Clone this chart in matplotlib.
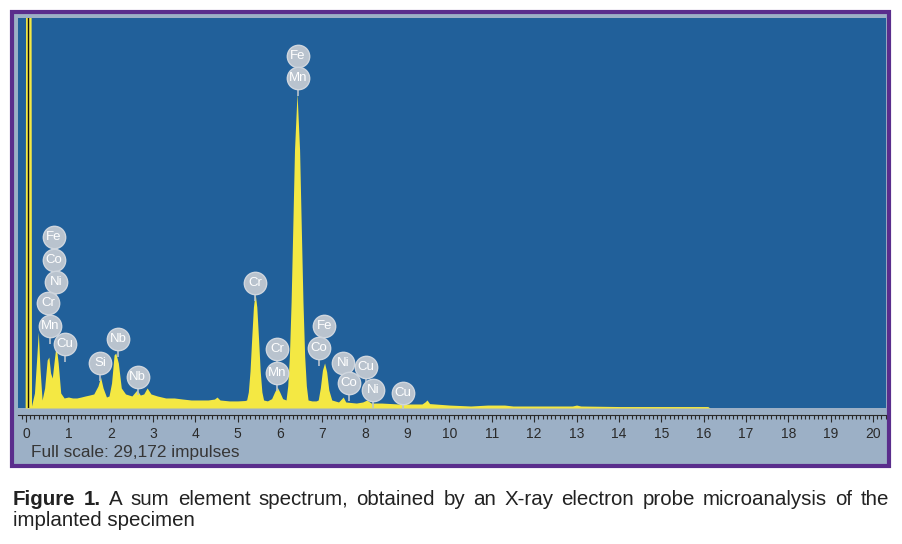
import numpy as np
import matplotlib.pyplot as plt
from matplotlib.patches import Rectangle
from matplotlib.ticker import MultipleLocator
from matplotlib import transforms

W, H = 902, 544
full_scale = 29172

# spectrum: energy (keV) and counts (impulses)
energy = [-0.02, -0.01, 0.12, 0.13, 0.20, 0.25, 0.29, 0.33, 0.38, 0.44, 0.50, 0.54,
          0.58, 0.62, 0.66, 0.71, 0.76, 0.82, 0.90, 1.00, 1.10, 1.20, 1.30, 1.40,
          1.50, 1.60, 1.70, 1.76, 1.82, 1.90, 1.96, 2.02, 2.08, 2.12, 2.18, 2.25,
          2.35, 2.50, 2.62, 2.70, 2.78, 2.86, 2.95, 3.10, 3.30, 3.50, 3.70, 3.90,
          4.10, 4.30, 4.45, 4.51, 4.58, 4.80, 5.00, 5.17, 5.21, 5.25, 5.29, 5.33,
          5.37, 5.41, 5.45, 5.49, 5.53, 5.57, 5.61, 5.70, 5.80, 5.87, 5.93, 5.99,
          6.06, 6.14, 6.18, 6.22, 6.26, 6.30, 6.34, 6.40, 6.46, 6.50, 6.54, 6.58,
          6.62, 6.66, 6.75, 6.85, 6.90, 6.95, 7.00, 7.05, 7.10, 7.15, 7.22, 7.38,
          7.44, 7.49, 7.55, 7.80, 7.95, 8.05, 8.15, 8.40, 8.80, 9.00, 9.35, 9.42,
          9.47, 9.53, 10.00, 10.50, 10.90, 11.30, 11.50, 12.00, 12.90, 13.00, 13.10,
          14.00, 15.00, 16.10, 16.15, 20.30]
counts = [0, 31000, 31000, 150, 1120, 3590, 5690, 2990, 600, 1500, 3590, 3810,
          2620, 2240, 3370, 4710, 3370, 1120, 750, 820, 750, 750, 820, 900,
          970, 1050, 1650, 2320, 1500, 820, 900, 1870, 3970, 4110, 3370, 1500,
          1050, 900, 1350, 970, 1050, 1500, 1050, 900, 750, 750, 670, 600,
          600, 600, 670, 820, 600, 530, 530, 560, 600, 1200, 2770, 5240,
          7550, 8600, 7550, 5240, 2770, 1200, 600, 530, 700, 1200, 1570, 1200,
          700, 600, 1650, 3890, 7930, 13540, 19300, 23560, 19300, 13540, 7930, 3890,
          1650, 600, 530, 530, 600, 1500, 2840, 3370, 2700, 1350, 600, 450,
          650, 820, 450, 370, 450, 600, 370, 370, 300, 300, 300, 450,
          600, 330, 220, 150, 220, 220, 150, 150, 150, 220, 150,
          110, 110, 110, 0, 0]
cursor_kev = 0.05

# element markers: name, energy (keV), height (impulses)
lbl_names = ["Fe", "Co", "Ni", "Cr", "Mn", "Cu", "Si", "Nb", "Nb", "Cr", "Cr", "Mn",
             "Fe", "Co", "Ni", "Co", "Cu", "Ni", "Cu", "Fe", "Mn"]
lbl_energy = [0.66, 0.66, 0.71, 0.52, 0.57, 0.92, 1.75, 2.17, 2.64, 5.41, 5.93, 5.93,
              7.04, 6.92, 7.49, 7.63, 8.03, 8.19, 8.90, 6.42, 6.42]
lbl_counts = [12790, 11070, 9425, 7850, 6130, 4790, 3365, 5160, 2320, 9350, 4410, 2620,
              6130, 4490, 3365, 1870, 3070, 1350, 1120, 26330, 24680]

caption1 = "Figure 1. A sum element spectrum, obtained by an X-ray electron probe microanalysis of the"
caption2 = "implanted specimen"

plt.rcParams['font.family'] = ['Liberation Sans', 'DejaVu Sans']


def box(x0, y0, x1, y1):
    # pixel box (top-left origin) -> figure fraction
    return [x0 / W, 1 - y1 / H, (x1 - x0) / W, (y1 - y0) / H]


fig = plt.figure(figsize=(W / 100, H / 100), dpi=100)

# outer panel with purple frame
fig.patches.append(Rectangle((12 / W, 1 - 466 / H), (889 - 12) / W, (466 - 12) / H,
                             transform=fig.transFigure, fc='#9cb0c6', ec='#5a2d8c',
                             lw=3, zorder=-10))

kev_px = (873 - 26) / 20
xlim = ((18 - 26) / kev_px, (886 - 26) / kev_px)

ax = fig.add_axes(box(18, 18, 886, 408))
ax.set_facecolor('#21609a')
ax.fill_between(energy, counts, color='#f4e843', lw=0)
ax.axvline(cursor_kev, color='#111111', lw=1)
ax.set_xlim(*xlim)
ax.set_ylim(0, full_scale)
ax.set_xticks([])
ax.set_yticks([])
for s in ax.spines.values():
    s.set_visible(False)

stem_tr = transforms.offset_copy(ax.transData, fig=fig, x=0, y=-13, units='dots')
ax.scatter(lbl_energy, lbl_counts, marker='|', s=60, color='#b9c3ce', lw=1.2,
           transform=stem_tr, zorder=3)
ax.scatter(lbl_energy, lbl_counts, s=260, color='#b9c3ce', edgecolors='#cfd6de',
           lw=1, zorder=4)
for name, e, c in zip(lbl_names, lbl_energy, lbl_counts):
    ax.text(e, c, name, color='white', fontsize=9.5, ha='center', va='center', zorder=5)

# ruler
rx = fig.add_axes(box(18, 415, 886, 424))
rx.set_facecolor('none')
rx.set_xlim(*xlim)
rx.set_yticks([])
for k, s in rx.spines.items():
    s.set_visible(k == 'top')
rx.spines['top'].set_color('#2a2a2a')
rx.xaxis.set_major_locator(MultipleLocator(1))
rx.xaxis.set_minor_locator(MultipleLocator(0.1))
rx.tick_params(axis='x', which='both', top=True, bottom=False, direction='in',
               labeltop=False, labelbottom=True, colors='#2a2a2a', width=0.8)
rx.tick_params(axis='x', which='major', length=5, labelsize=10, pad=2)
rx.tick_params(axis='x', which='minor', length=3)
rx.xaxis.set_major_formatter(lambda v, p: f"{v:.0f}")

fig.text(31 / W, 1 - 452 / H, "Full scale: 29,172 impulses", fontsize=12.4,
         color='#363636', va='center', ha='left')

# justified caption
renderer = fig.canvas.get_renderer()
words = caption1.split()
texts = []
for i, w in enumerate(words):
    texts.append(fig.text(0, 1 - 505 / H, w, fontsize=14.8, color='#222222',
                          fontweight='bold' if i < 2 else 'normal', va='baseline'))
widths = [t.get_window_extent(renderer).width for t in texts]
gap = (889 - 13 - sum(widths)) / (len(words) - 1)
x = 13
for t, w in zip(texts, widths):
    t.set_x(x / W)
    x += w + gap
fig.text(13 / W, 1 - 526 / H, caption2, fontsize=14.8, color='#222222', va='baseline')

fig.savefig('out.png', dpi=100)
